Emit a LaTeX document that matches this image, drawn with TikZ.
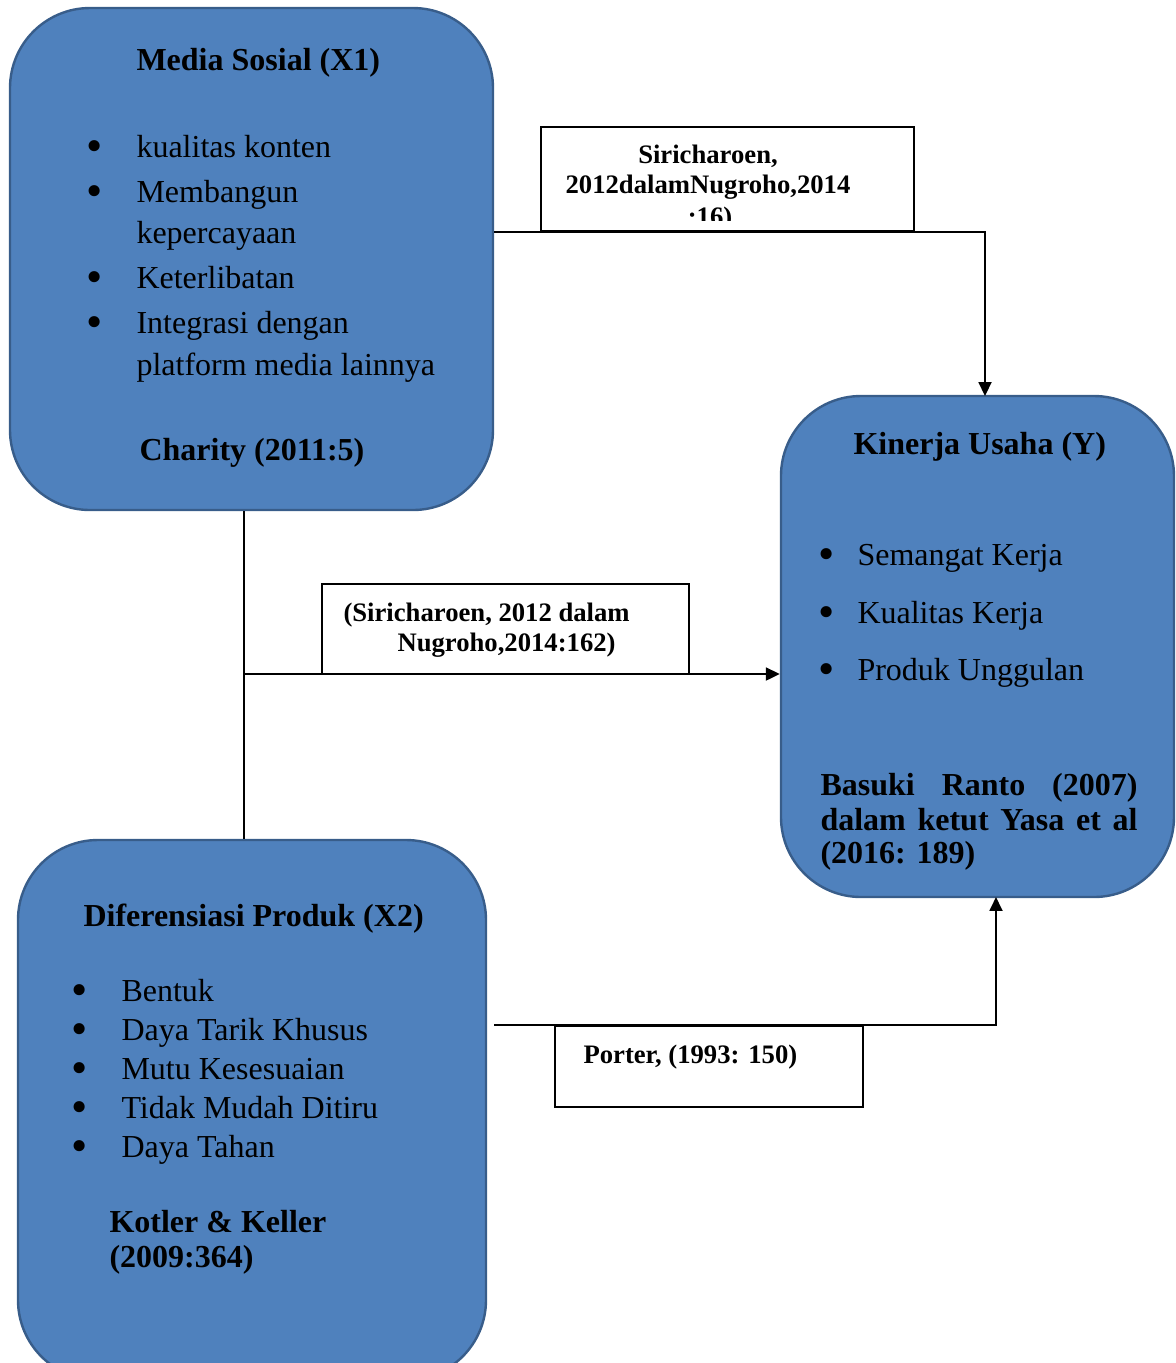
\documentclass[tikz,border=0pt]{standalone}
\usepackage{fontspec}
\setmainfont{Liberation Serif}
\usetikzlibrary{arrows.meta,fit,calc}
\definecolor{boxfill}{HTML}{4F81BD}
\definecolor{boxline}{HTML}{385D8A}
\newcommand{\bigbul}{\smash{\raisebox{-1.6pt}{\scalebox{1.45}{\textbullet}}}}
\tikzset{
 varbox/.style={draw=boxline, fill=boxfill, line width=0.9pt, rounded corners=30pt, inner sep=0pt},
 refbox/.style={draw=black, line width=0.85pt, inner sep=0pt, fill=white},
 conn/.style={draw=black, line width=0.9pt},
 arr/.style={conn, -{Triangle[length=5.2pt,width=4.8pt]}},
 thinline/.style={draw=black, line width=0.5pt},
 body/.style={font=\fontsize{12}{14}\selectfont, inner sep=0pt, anchor=base west},
 bodyb/.style={font=\fontsize{12}{14}\selectfont\bfseries, inner sep=0pt, anchor=base west},
 bul/.style={font=\fontsize{12}{14}\selectfont, inner sep=0pt, anchor=base},
 lab/.style={font=\fontsize{10}{12}\selectfont\bfseries, inner sep=0pt, anchor=base west},
}
\begin{document}
\begin{tikzpicture}[x=0.375pt,y=-0.375pt]
\useasboundingbox (0,0) rectangle (1176,1363);
\clip (0,0) rectangle (1176,1363);

% main boxes
\node[varbox, fit={(10,8) (493,510)}] (m1) {};
\node[varbox, fit={(781,396) (1174,897)}] (ky) {};
\node[varbox, fit={(18,840) (486,1380)}] (x2) {};

% label boxes
\node[refbox, fit={(541,127) (914,231)}] (l1) {};
\node[refbox, fit={(322,584) (689,674)}] (l2) {};
\node[refbox, fit={(555,1026) (863,1107)}] (l3) {};

% connector coordinates
\coordinate (kyA) at (985,396);
\coordinate (kyB) at (996,897);
\coordinate (j) at (244,674);

% connectors
\draw[arr] (m1.east |- l1.south) -| (kyA);
\draw[thinline] (m1.south -| j) -- (x2.north -| j);
\draw[arr] (j) -- (ky.west |- j);
\draw[arr] ($(x2.east |- l3.north)+(7,0)$) -| (kyB);

% Media Sosial box text
\node[bodyb] (m1t) at (136,70) {Media Sosial (X1)};
\node[bul] (m1b1) at (95,157) {\bigbul};
\node[body] (m1i1) at (136,157) {kualitas konten};
\node[bul] (m1b2) at (95,202) {\bigbul};
\node[body] (m1i2) at (136,202) {Membangun};
\node[body] (m1i2b) at (136,243) {kepercayaan};
\node[bul] (m1b3) at (95,288) {\bigbul};
\node[body] (m1i3) at (136,288) {Keterlibatan};
\node[bul] (m1b4) at (95,333) {\bigbul};
\node[body] (m1i4) at (136,333) {Integrasi dengan};
\node[body] (m1i4b) at (136,375) {platform media lainnya};
\node[bodyb] (m1c) at (139,460) {Charity (2011:5)};

% Kinerja Usaha box text
\node[bodyb] (kyt) at (853,454) {Kinerja Usaha (Y)};
\node[bul] (kyb1) at (827,565) {\bigbul};
\node[body] (kyi1) at (857,565) {Semangat Kerja};
\node[bul] (kyb2) at (827,623) {\bigbul};
\node[body] (kyi2) at (857,623) {Kualitas Kerja};
\node[bul] (kyb3) at (827,680) {\bigbul};
\node[body] (kyi3) at (857,680) {Produk Unggulan};
\node[bodyb] (kyc1) at (820,795) {\makebox[118.9pt][s]{Basuki Ranto (2007)}};
\node[bodyb] (kyc2) at (820,830) {\makebox[118.9pt][s]{dalam ketut Yasa et al}};
\node[bodyb] (kyc3) at (820,863) {(2016: 189)};

% Diferensiasi Produk box text
\node[bodyb] (x2t) at (83,926) {Diferensiasi Produk (X2)};
\node[bul] (x2b1) at (80,1001) {\bigbul};
\node[body] (x2i1) at (121,1001) {Bentuk};
\node[bul] (x2b2) at (80,1040) {\bigbul};
\node[body] (x2i2) at (121,1040) {Daya Tarik Khusus};
\node[bul] (x2b3) at (80,1079) {\bigbul};
\node[body] (x2i3) at (121,1079) {Mutu Kesesuaian};
\node[bul] (x2b4) at (80,1118) {\bigbul};
\node[body] (x2i4) at (121,1118) {Tidak Mudah Ditiru};
\node[bul] (x2b5) at (80,1157) {\bigbul};
\node[body] (x2i5) at (121,1157) {Daya Tahan};
\node[bodyb] (x2c1) at (109,1232) {Kotler \& Keller};
\node[bodyb] (x2c2) at (109,1267) {(2009:364)};

% label texts
\begin{scope}
\clip (541,127) rectangle (914,220);
\node[lab, anchor=base] (l1a) at (708,163) {Siricharoen,};
\node[lab, anchor=base] (l1b) at (708,193) {2012dalamNugroho,2014};
\node[lab, anchor=base] (l1c) at (710,225) {:16)};
\end{scope}
\node[lab] (l2a) at (343,621) {(Siricharoen, 2012 dalam};
\node[lab] (l2b) at (397,651) {Nugroho,2014:162)};
\node[lab] (l3a) at (583,1063) {Porter, (1993: 150)};
\end{tikzpicture}
\end{document}
